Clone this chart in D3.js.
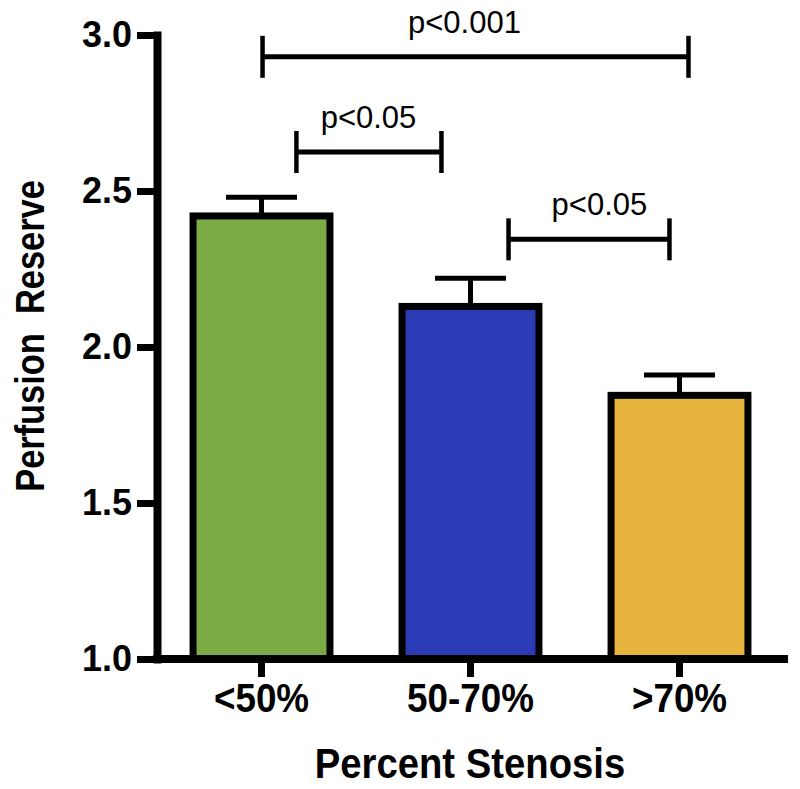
<!DOCTYPE html>
<html>
<head>
<meta charset="utf-8">
<script src="https://cdn.jsdelivr.net/npm/d3@7"></script>
<style>
  html, body { margin: 0; padding: 0; background: #fff; }
  svg { display: block; }
  text { font-family: "Liberation Sans", Arial, Helvetica, sans-serif; }
</style>
</head>
<body>
<svg id="chart" width="800" height="789"></svg>
<script>
// ---- data ----
const categories = ["<50%", "50-70%", ">70%"];
const means = [2.42, 2.13, 1.845];
const sems = [0.06, 0.09, 0.065];
const barColors = ["#7BAB44", "#2B3BB6", "#E6B43C"];
const yTicks = [1.0, 1.5, 2.0, 2.5, 3.0];
const bracketLabels = ["p<0.001", "p<0.05", "p<0.05"];
const bracketLevels = [2.93, 2.625, 2.345];       // y value of the bracket bar
const bracketFrom = [0.005, 0.167, 1.182];        // position in category-index units
const bracketTo = [2.043, 0.861, 1.952];
const bracketLabelAt = [0.971, 0.512, 1.617];
const yTitle = "Perfusion\u00A0\u00A0Reserve";
const xTitle = "Percent Stenosis";

// ---- layout ----
const svg = d3.select("#chart");
const x = d3.scaleBand().domain(categories).range([157, 784])
  .paddingInner(0.345).paddingOuter(0.1725);
const y = d3.scaleLinear().domain([1.0, 3.0]).range([659, 35]);
const idx = d3.scaleLinear().domain([0, 1])
  .range([x(categories[0]) + x.bandwidth() / 2, x(categories[1]) + x.bandwidth() / 2]);

function condense(sel, f) {
  sel.each(function () {
    const len = this.getComputedTextLength();
    d3.select(this).attr("textLength", len * f).attr("lengthAdjust", "spacingAndGlyphs");
  });
}

// bars
const bars = svg.append("g");
bars.selectAll("rect").data(categories).join("rect")
  .attr("x", d => x(d))
  .attr("y", (d, i) => y(means[i]))
  .attr("width", x.bandwidth())
  .attr("height", (d, i) => y(1.0) - y(means[i]))
  .attr("fill", (d, i) => barColors[i])
  .attr("stroke", "#000")
  .attr("stroke-width", 7);

// error bars (upper only)
const eb = svg.append("g").attr("stroke", "#000").attr("stroke-width", 5);
categories.forEach((c, i) => {
  const cx = x(c) + x.bandwidth() / 2;
  eb.append("line").attr("x1", cx).attr("x2", cx)
    .attr("y1", y(means[i]) - 3).attr("y2", y(means[i] + sems[i]));
  eb.append("line").attr("x1", cx - 35.5).attr("x2", cx + 35.5)
    .attr("y1", y(means[i] + sems[i])).attr("y2", y(means[i] + sems[i]));
});

// y axis
const yAxis = svg.append("g").attr("transform", "translate(157,0)")
  .call(d3.axisLeft(y).tickValues(yTicks).tickFormat(d3.format(".1f"))
    .tickSize(20).tickSizeOuter(0).tickPadding(5));
yAxis.select(".domain").attr("stroke-width", 8).attr("stroke-linecap", "square");
yAxis.selectAll(".tick line").attr("stroke-width", 7);
yAxis.selectAll(".tick text").attr("font-size", 36).attr("font-weight", "bold")
  .attr("fill", "#000").attr("font-family", "'Liberation Sans', Arial, sans-serif");

// x axis
const xAxis = svg.append("g").attr("transform", "translate(0,659)")
  .call(d3.axisBottom(x).tickSize(18).tickSizeOuter(0).tickPadding(7));
xAxis.select(".domain").remove();
xAxis.selectAll(".tick line").attr("stroke-width", 7);
xAxis.selectAll(".tick text").attr("font-size", 40).attr("font-weight", "bold")
  .attr("fill", "#000").attr("font-family", "'Liberation Sans', Arial, sans-serif")
  .call(condense, 0.92);
svg.append("line").attr("x1", 153).attr("x2", 788).attr("y1", 659).attr("y2", 659)
  .attr("stroke", "#000").attr("stroke-width", 8);

// significance brackets
const br = svg.append("g");
bracketLabels.forEach((lab, i) => {
  const x1 = idx(bracketFrom[i]), x2 = idx(bracketTo[i]), yy = y(bracketLevels[i]);
  const g = br.append("g").attr("stroke", "#000").attr("stroke-width", 5);
  g.append("line").attr("x1", x1).attr("x2", x2).attr("y1", yy).attr("y2", yy);
  g.append("line").attr("x1", x1).attr("x2", x1).attr("y1", yy - 21).attr("y2", yy + 21).attr("stroke-width", 4.5);
  g.append("line").attr("x1", x2).attr("x2", x2).attr("y1", yy - 21).attr("y2", yy + 21).attr("stroke-width", 4.5);
  br.append("text").attr("x", idx(bracketLabelAt[i])).attr("y", yy - 24)
    .attr("text-anchor", "middle").attr("font-size", 31).attr("fill", "#000")
    .text(lab);
});

// axis titles
svg.append("text").attr("transform", "translate(44,336) rotate(-90)")
  .attr("text-anchor", "middle").attr("font-size", 40).attr("font-weight", "bold")
  .attr("fill", "#000").text(yTitle).call(condense, 0.86);
svg.append("text").attr("x", 470).attr("y", 778)
  .attr("text-anchor", "middle").attr("font-size", 43).attr("font-weight", "bold")
  .attr("fill", "#000").text(xTitle).call(condense, 0.89);
</script>
</body>
</html>
